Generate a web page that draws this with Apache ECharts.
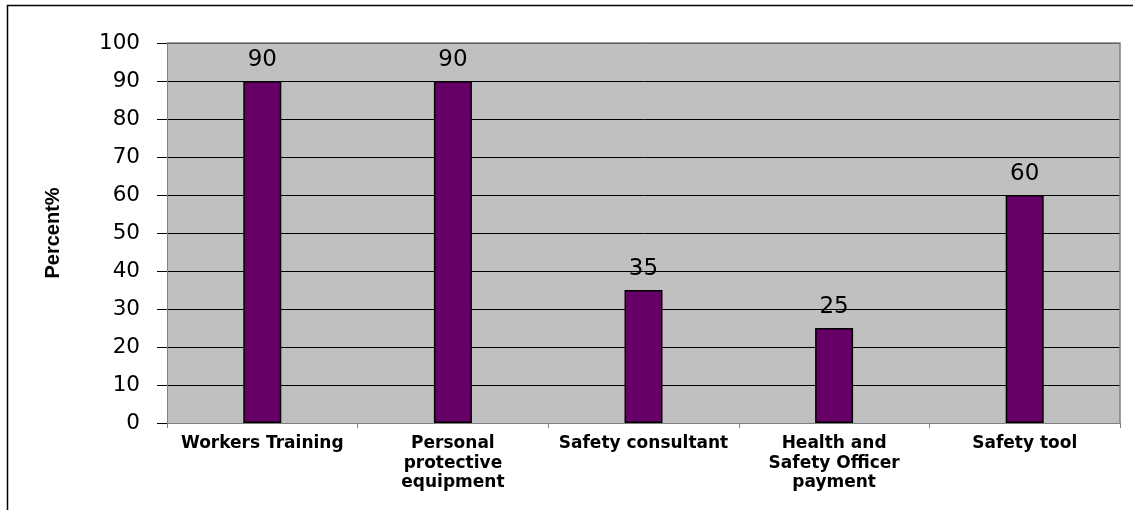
<!DOCTYPE html>
<html><head><meta charset="utf-8">
<script src="https://cdn.jsdelivr.net/npm/echarts@6/dist/echarts.min.js"></script>
<style>html,body{margin:0;padding:0;background:#fff}#c{width:1133px;height:510px}</style>
</head><body><div id="c"></div>
<script>
const categories = ["Workers Training", "Personal\nprotective\nequipment", "Safety consultant", "Health and\nSafety Officer\npayment", "Safety tool"];
const values = [90, 90, 35, 25, 60];
const yTicks = {min: 0, max: 100, interval: 10};

const chart = echarts.init(document.getElementById('c'), null, {renderer: 'canvas'});
chart.setOption({
  animation: false,
  backgroundColor: '#ffffff',
  graphic: [
    {type: 'rect', shape: {x: 7.5, y: 5.5, width: 1140, height: 520}, style: {fill: 'none', stroke: '#000', lineWidth: 1.5}, z: 100},
    {type: 'polyline', shape: {points: [[167, 43], [1120, 43], [1120, 423]]}, style: {fill: 'none', stroke: '#808080', lineWidth: 1.5}, z: 1}
  ],
  grid: {left: 167, top: 43, width: 953, height: 380, show: true, backgroundColor: '#c0c0c0', borderWidth: 0},
  xAxis: {
    type: 'category', data: categories,
    axisLine: {show: true, lineStyle: {color: '#808080', width: 1}},
    axisTick: {show: true, length: 5, inside: false, lineStyle: {color: '#808080'}},
    axisLabel: {fontFamily: 'DejaVu Sans', fontWeight: 'bold', fontSize: 17, color: '#000', margin: 11, lineHeight: 19.5, interval: 0}
  },
  yAxis: {
    type: 'value', min: yTicks.min, max: yTicks.max, interval: yTicks.interval,
    name: 'Percent%', nameLocation: 'middle', nameGap: 104, nameRotate: 90,
    nameTextStyle: {fontFamily: 'Liberation Sans', fontWeight: 'bold', fontSize: 20, color: '#000'},
    axisLine: {show: true, lineStyle: {color: '#808080', width: 1}},
    axisTick: {show: true, length: 10, lineStyle: {color: '#000'}},
    axisLabel: {fontFamily: 'DejaVu Sans', fontSize: 21.5, color: '#000', margin: 27},
    splitLine: {show: true, lineStyle: {color: '#000', width: 1}}
  },
  series: [{
    type: 'bar', data: values, barWidth: 38,
    itemStyle: {color: '#660066', borderColor: '#000', borderWidth: 1.5},
    label: {show: true, position: 'top', distance: 9, fontFamily: 'DejaVu Sans', fontSize: 23, color: '#000'}
  }]
});
</script></body></html>
